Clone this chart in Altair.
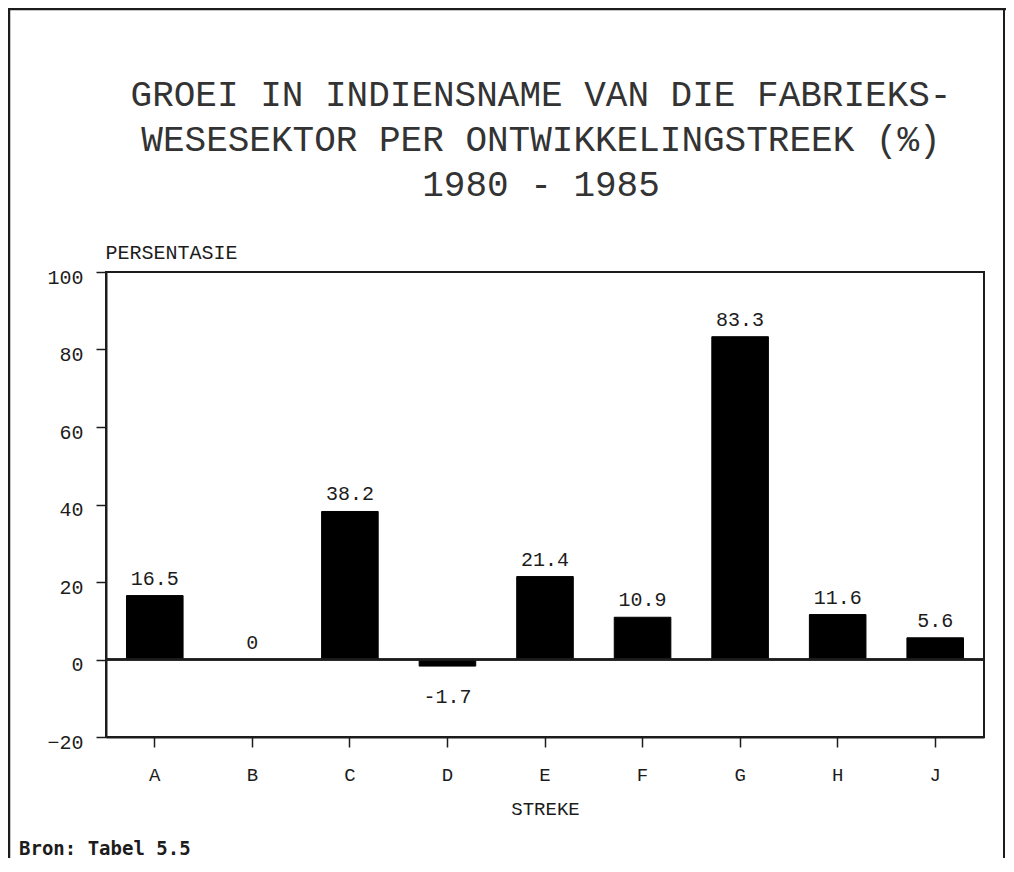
import altair as alt
import pandas as pd

# ---- data -------------------------------------------------------------
regions = ["A", "B", "C", "D", "E", "F", "G", "H", "J"]
growth = [16.5, 0, 38.2, -1.7, 21.4, 10.9, 83.3, 11.6, 5.6]
value_labels = ["16.5", "0", "38.2", "-1.7", "21.4", "10.9", "83.3", "11.6", "5.6"]
y_ticks = [-20, 0, 20, 40, 60, 80, 100]
title_lines = [
    "GROEI IN INDIENSNAME VAN DIE FABRIEKS-",
    "WESESEKTOR PER ONTWIKKELINGSTREEK (%)",
    "1980 - 1985",
]
y_title = "PERSENTASIE"
x_title = "STREKE"
source_note = "Bron: Tabel 5.5"

df = pd.DataFrame({"streek": regions, "groei": growth, "label": value_labels})

FONT = "Liberation Mono"
INK = "#1c1c1c"
W, H = 878, 465

x_enc = alt.X(
    "streek:N",
    sort=regions,
    scale=alt.Scale(paddingInner=0.42, paddingOuter=0.21),
    axis=alt.Axis(
        title=x_title,
        labelAngle=0,
        tickSize=10,
        tickColor=INK,
        tickWidth=1.5,
        labelPadding=33,
        labelBaseline="alphabetic",
        labelFont=FONT,
        labelFontSize=19,
        labelColor=INK,
        titleFont=FONT,
        titleFontSize=19,
        titleFontWeight="normal",
        titleColor=INK,
        titleBaseline="alphabetic",
        titleY=77,
        domainColor=INK,
        domainWidth=2,
    ),
)

y_enc = alt.Y(
    "groei:Q",
    scale=alt.Scale(domain=[-20, 100], nice=False),
    axis=alt.Axis(
        values=y_ticks,
        grid=False,
        title=y_title,
        titleAngle=0,
        titleAlign="left",
        titleBaseline="alphabetic",
        titleX=-1,
        titleY=-14,
        titleFont=FONT,
        titleFontSize=20,
        titleFontWeight="normal",
        titleColor=INK,
        tickSize=10,
        tickColor=INK,
        tickWidth=1.5,
        labelPadding=13,
        labelBaseline="alphabetic",
        labelOffset=11,
        labelFont=FONT,
        labelFontSize=20,
        labelColor=INK,
        domainColor=INK,
        domainWidth=2,
    ),
)

base = alt.Chart(df)

bars = base.mark_bar(color="black", stroke="black", strokeWidth=1).encode(
    x=x_enc, y=y_enc, y2=alt.datum(0)
)

zero_line = base.mark_rule(color=INK, strokeWidth=1.5).encode(y=alt.datum(0))

pos_labels = base.transform_filter(alt.datum.groei >= 0).mark_text(
    font=FONT, fontSize=20, color=INK, baseline="alphabetic", dy=-11
).encode(x=alt.X("streek:N", sort=regions), y="groei:Q", text="label:N")

neg_labels = base.transform_filter(alt.datum.groei < 0).mark_text(
    font=FONT, fontSize=20, color=INK, baseline="alphabetic", dy=37
).encode(x=alt.X("streek:N", sort=regions), y="groei:Q", text="label:N")

one = alt.Data(values=[{"k": 1}])

title_text = alt.Chart(one).mark_text(
    text=title_lines, font=FONT, fontSize=36, color="#333333",
    align="center", baseline="middle", lineHeight=45,
).encode(x=alt.value(435), y=alt.value(-177))

source_text = alt.Chart(one).mark_text(
    text=source_note, font="DejaVu Sans Mono", fontSize=19, fontWeight="bold",
    color=INK, align="left", baseline="alphabetic",
).encode(x=alt.value(-87), y=alt.value(583))

frame_left = alt.Chart(one).mark_rule(color=INK, strokeWidth=2.5).encode(
    x=alt.value(-97), y=alt.value(-263), y2=alt.value(700)
)
frame_top = alt.Chart(one).mark_rule(color=INK, strokeWidth=2.5).encode(
    x=alt.value(-98), x2=alt.value(900), y=alt.value(-263)
)
frame_right = alt.Chart(one).mark_rule(color=INK, strokeWidth=2).encode(
    x=alt.value(898), y=alt.value(-263), y2=alt.value(700)
)

chart = alt.layer(
    bars, zero_line, pos_labels, neg_labels,
    title_text, source_text, frame_left, frame_top, frame_right,
).properties(
    width=W,
    height=H,
    autosize=alt.AutoSizeParams(type="none"),
    padding={"left": 98, "top": 264, "right": 22, "bottom": 121},
    background="white",
).configure_view(
    stroke=INK, strokeWidth=2
)

chart.save("out.html", embed_options={"renderer": "svg", "actions": False})
